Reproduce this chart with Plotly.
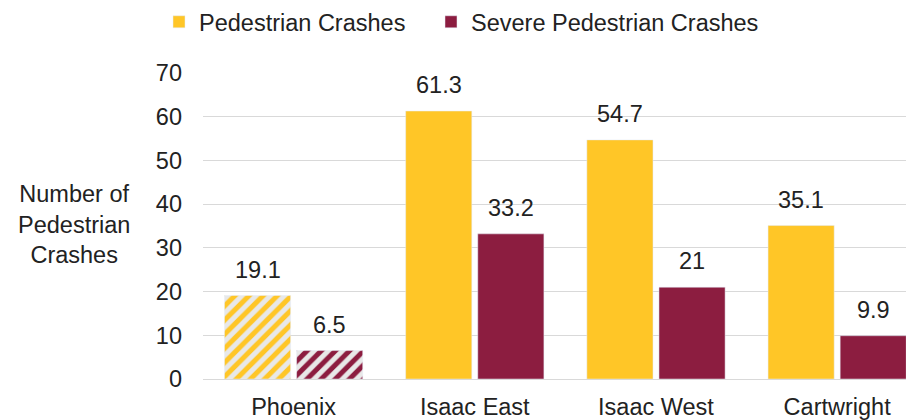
"""Pedestrian crashes by area: all crashes vs. severe crashes."""
import plotly.graph_objects as go

areas = ["Phoenix", "Isaac East", "Isaac West", "Cartwright"]
pedestrian = [19.1, 61.3, 54.7, 35.1]
severe = [6.5, 33.2, 21, 9.9]
y_ticks = [0, 10, 20, 30, 40, 50, 60, 70]
hatched_area = "Phoenix"

GOLD = "#FFC627"
MAROON = "#8C1D40"
TEXT = "#222222"
FONT = "Liberation Sans, Arial, sans-serif"
FS = 23.5

# Draw the hatched area last so the legend symbol (taken from the first
# point) stays solid; the axis keeps the original category order.
order = [i for i, a in enumerate(areas) if a != hatched_area] + [areas.index(hatched_area)]
xs = [areas[i] for i in order]
hatch = ["/" if a == hatched_area else "" for a in xs]


def pattern(color):
    return dict(shape=hatch, bgcolor="#e8e8e8", fgcolor=color, fgopacity=1,
                size=10, solidity=0.5)


fig = go.Figure()
fig.add_trace(go.Bar(
    name="Pedestrian Crashes", x=xs, y=[pedestrian[i] for i in order],
    legend="legend", marker=dict(color=GOLD, pattern=pattern(GOLD)),
))
fig.add_trace(go.Bar(
    name="Severe Pedestrian Crashes", x=xs, y=[severe[i] for i in order],
    legend="legend2", marker=dict(color=MAROON, pattern=pattern(MAROON)),
))

# value labels above each bar
for vals, shift in ((pedestrian, -36), (severe, 36)):
    for a, v in zip(areas, vals):
        fig.add_annotation(
            x=a, y=v, xref="x", yref="y", text=f"{v:g}", showarrow=False,
            xshift=shift, yanchor="bottom", yshift=11,
            font=dict(size=FS, color=TEXT, family=FONT),
        )

fig.add_annotation(
    text="Number of<br>Pedestrian<br>Crashes", xref="paper", yref="paper",
    x=-0.181, y=0.506, xanchor="center", yanchor="middle", showarrow=False,
    align="center", font=dict(size=FS, color=TEXT, family=FONT),
)

W, H = 906, 412
leg = dict(orientation="h", xref="container", yref="container",
           y=1 - 14 / H, xanchor="left", yanchor="middle",
           font=dict(size=FS, color=TEXT, family=FONT), itemclick=False,
           bgcolor="rgba(0,0,0,0)")

fig.update_layout(
    width=W, height=H,
    margin=dict(l=195, r=0, t=65, b=39),
    paper_bgcolor="white", plot_bgcolor="white",
    font=dict(family=FONT, size=FS, color=TEXT),
    barmode="group", bargap=0.204, bargroupgap=0.083,
    showlegend=True,
    legend=dict(leg, x=151 / W),
    legend2=dict(leg, x=423 / W),
    xaxis=dict(range=[-0.5, 3.424], categoryorder="array", categoryarray=areas,
               showgrid=False, showline=False, ticks="", ticklabelstandoff=11,
               fixedrange=True),
    yaxis=dict(range=[0, 70], tickvals=y_ticks, showgrid=True,
               gridcolor="#d9d9d9", gridwidth=1, zeroline=True,
               zerolinecolor="#d9d9d9", zerolinewidth=1, showline=False,
               ticks="", ticklabelstandoff=20, fixedrange=True),
)

fig.write_html("out.html")
